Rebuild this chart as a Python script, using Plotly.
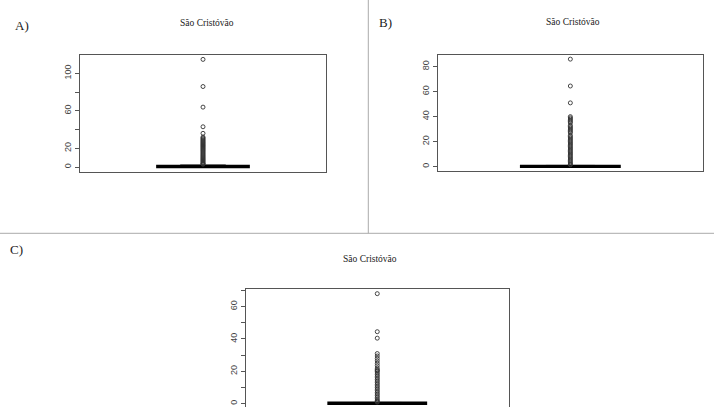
import plotly.graph_objects as go

W, H = 714, 407

# ---- data ----
panel_labels = ["A)", "B)", "C)"]
panel_title = "São Cristóvão"

box_a = dict(q1=0, median=0, q3=1.0, lowerfence=0, upperfence=2.5)
box_b = dict(q1=0, median=0, q3=0.5, lowerfence=0, upperfence=1.0)
box_c = dict(q1=0, median=0, q3=0.5, lowerfence=0, upperfence=0.8)

out_a = [115, 86, 64, 43, 36, 32, 31, 30, 29, 28, 27, 26, 25, 24, 23, 22, 21, 20,
         19, 18, 17, 16, 15, 14, 13, 12, 11, 10, 9, 8, 7, 6, 5, 4, 3.5, 3]
out_b = [86, 64.5, 51, 40, 39, 38, 37, 36, 35, 33, 32, 31, 30, 29, 28, 27, 25, 24,
         23, 22, 21, 20, 19, 18, 17, 16, 15, 14, 13, 12, 11, 10, 9, 8, 7, 6, 5, 4,
         3, 2, 1.5]
out_c = [68, 44.5, 40.5, 31, 29.5, 28, 26.5, 25, 23.5, 22, 21, 20.5, 20, 19, 18, 17,
         16, 15, 14, 13, 12, 11, 10, 9, 8, 7, 6, 5, 4, 3, 2, 1.5, 1]

ticks_a = [0, 20, 40, 60, 80, 100]
labels_a = ["0", "20", "", "60", "", "100"]
ticks_b = [0, 20, 40, 60, 80]
labels_b = ["0", "20", "40", "60", "80"]
ticks_c = [0, 10, 20, 30, 40, 50, 60, 70]
labels_c = ["0", "", "20", "", "40", "", "60", ""]

# ---- layout helpers (pixel -> paper) ----
def px(x):
    return x / W

def py(y):
    return 1 - y / H

panels = [
    dict(box=box_a, out=out_a, ticks=ticks_a, labels=labels_a,
         xdom=[px(80), px(326)], ydom=[py(172), py(54.7)], yr=[-5.3, 120]),
    dict(box=box_b, out=out_b, ticks=ticks_b, labels=labels_b,
         xdom=[px(437.7), px(703)], ydom=[py(171), py(55)], yr=[-3.5, 89.3]),
    dict(box=box_c, out=out_c, ticks=ticks_c, labels=labels_c,
         xdom=[px(246), px(508.5)], ydom=[0, py(289.3)], yr=[-2.03, 70.7]),
]

fig = go.Figure()
layout = dict(
    width=W, height=H, margin=dict(l=0, r=0, t=0, b=0),
    paper_bgcolor="white", plot_bgcolor="white", showlegend=False,
    boxmode="overlay",
)

for i, p in enumerate(panels):
    sfx = "" if i == 0 else str(i + 1)
    xa, ya = "x" + sfx, "y" + sfx
    b = p["box"]
    # thin whisker/staple
    fig.add_trace(go.Box(
        x=[1], q1=[b["q1"]], median=[b["median"]], q3=[b["q3"]],
        lowerfence=[b["lowerfence"]], upperfence=[b["upperfence"]],
        width=0.4, whiskerwidth=0.5, boxpoints=False,
        line=dict(color="#777777", width=1), fillcolor="rgba(0,0,0,0)",
        xaxis=xa, yaxis=ya, hoverinfo="skip"))
    # thick box / median
    fig.add_trace(go.Box(
        x=[1], q1=[b["q1"]], median=[b["median"]], q3=[b["q3"]],
        lowerfence=[b["q1"]], upperfence=[b["q3"]],
        width=0.4, whiskerwidth=0, boxpoints=False,
        line=dict(color="black", width=2.6), fillcolor="black",
        xaxis=xa, yaxis=ya, hoverinfo="skip"))
    # outliers
    fig.add_trace(go.Scatter(
        x=[1] * len(p["out"]), y=p["out"], mode="markers",
        marker=dict(symbol="circle-open", size=4, color="#333333",
                    line=dict(width=0.9, color="#333333")),
        xaxis=xa, yaxis=ya, hoverinfo="skip"))
    layout["xaxis" + sfx] = dict(
        domain=p["xdom"], range=[0.46, 1.54], anchor=ya,
        showticklabels=False, ticks="", showgrid=False, zeroline=False,
        showline=True, mirror=True, linecolor="#555555", linewidth=1)
    layout["yaxis" + sfx] = dict(
        domain=p["ydom"], range=p["yr"], anchor=xa,
        tickmode="array", tickvals=p["ticks"], ticktext=p["labels"],
        ticks="outside", ticklen=4, tickcolor="#555555", tickangle=-90,
        tickfont=dict(family="Liberation Sans, Arial", size=9, color="#444444"),
        showgrid=False, zeroline=False,
        showline=True, mirror=True, linecolor="#555555", linewidth=1)

title_pos = [(207, 23), (573, 22), (370, 259)]
label_pos = [(22, 25), (385, 23), (16, 249)]
annotations = []
for (tx, ty) in title_pos:
    annotations.append(dict(
        text=panel_title, x=px(tx), y=py(ty), xref="paper", yref="paper",
        showarrow=False, xanchor="center", yanchor="middle",
        font=dict(family="Liberation Serif, Times New Roman, serif", size=9.5, color="#222222")))
for lab, (lx, ly) in zip(panel_labels, label_pos):
    annotations.append(dict(
        text=lab, x=px(lx), y=py(ly), xref="paper", yref="paper",
        showarrow=False, xanchor="center", yanchor="middle",
        font=dict(family="Liberation Serif, Times New Roman, serif", size=13, color="#222222")))
layout["annotations"] = annotations

layout["shapes"] = [
    dict(type="line", xref="paper", yref="paper",
         x0=px(368.3), x1=px(368.3), y0=py(233.3), y1=1,
         line=dict(color="#aaaaaa", width=1)),
    dict(type="line", xref="paper", yref="paper",
         x0=0, x1=1, y0=py(233.3), y1=py(233.3),
         line=dict(color="#aaaaaa", width=1)),
]

fig.update_layout(**layout)
fig.write_html(
    "out.html",
    config={"displayModeBar": False, "staticPlot": True},
    post_script="document.body.style.margin='0';document.body.style.overflow='hidden';",
)
